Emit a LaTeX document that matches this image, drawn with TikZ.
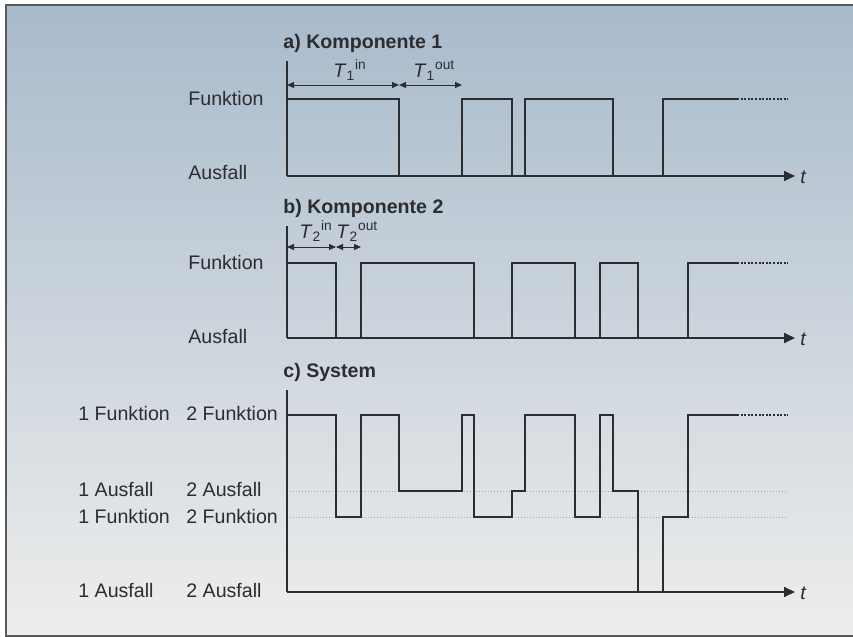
\documentclass[tikz,border=0pt]{standalone}
\usepackage{fontspec}
\setmainfont{Liberation Sans}
\usetikzlibrary{arrows.meta}
\definecolor{bgtop}{RGB}{168,186,203}
\definecolor{bgmid}{RGB}{206,213,220}
\definecolor{bgbot}{RGB}{238,238,237}
\definecolor{ink}{RGB}{45,45,48}
\newcommand{\Tlab}[2]{\textit{T}\textsubscript{#1}\textsuperscript{#2}}
\begin{document}
\begin{tikzpicture}[x=0.5pt, y=-0.5pt,
    lbl/.style={anchor=west, inner sep=0pt, text=ink, font=\fontsize{9.8}{11}\selectfont},
    title/.style={lbl, font=\fontsize{9.8}{11}\selectfont\bfseries},
    sig/.style={draw=ink, line width=1pt, line join=miter},
    tail/.style={draw=ink, line width=0.9pt, dash pattern=on 1pt off 0.8pt},
    axis/.style={draw=ink, line width=1pt, -{Triangle[length=5.5pt, width=5pt]}},
    dim/.style={draw=ink, line width=0.5pt, {Triangle[length=3.5pt, width=3pt]}-{Triangle[length=3.5pt, width=3pt]}},
    ref/.style={draw=black!35, line width=0.4pt, dash pattern=on 0.5pt off 1pt}
  ]
    \useasboundingbox (0,0) rectangle (853,637);
    % --- background panel ---
    \fill[white] (0,0) rectangle (853,637);
    \shade[top color=bgtop, middle color=bgmid, bottom color=bgbot] (6,5) rectangle (853,636);
    \draw[black!65, line width=0.6pt] (853,5) -- (6,5) -- (6,636) -- (853,636);

    % --- a) Komponente 1 ---
    \node[title] (ta) at (283,43) {a) Komponente 1};
    \node[lbl] (fa) at (188,98) {Funktion};
    \node[lbl] (aa) at (188,172) {Ausfall};
    \draw[ink, line width=1pt] (287,61) -- (287,176);
    \draw[axis] (287,176) -- (795,176);
    \node[lbl, font=\fontsize{9.8}{11}\selectfont\itshape] (tta) at (800,177) {t};
    \draw[sig] (287,99) -- (399,99) -- (399,176) -- (462,176) -- (462,99) -- (512,99) -- (512,176)
      -- (525,176) -- (525,99) -- (613,99) -- (613,176) -- (663,176) -- (663,99) -- (737,99);
    \draw[tail] (737,99) -- (788,99);
    % durations
    \coordinate (a0) at (287,85);
    \coordinate (a1) at (399,85);
    \coordinate (a2) at (462,85);
    \draw[dim] (a0) -- (a1);
    \draw[dim] (a1) -- (a2);
    \node[lbl, anchor=base west] (t1in) at (333,77) {\Tlab{1}{in}};
    \node[lbl, anchor=base west] (t1out) at (413,77) {\Tlab{1}{out}};

    % --- b) Komponente 2 ---
    \node[title] (tb) at (283,208) {b) Komponente 2};
    \node[lbl] (fb) at (188,262) {Funktion};
    \node[lbl] (ab) at (188,336) {Ausfall};
    \draw[ink, line width=1pt] (287,226) -- (287,338);
    \draw[axis] (287,338) -- (795,338);
    \node[lbl, font=\fontsize{9.8}{11}\selectfont\itshape] (ttb) at (800,339) {t};
    \draw[sig] (287,263) -- (336,263) -- (336,338) -- (361,338) -- (361,263) -- (474,263) -- (474,338)
      -- (512,338) -- (512,263) -- (575,263) -- (575,338) -- (600,338) -- (600,263) -- (638,263)
      -- (638,338) -- (688,338) -- (688,263) -- (737,263);
    \draw[tail] (737,263) -- (788,263);
    % durations
    \coordinate (b0) at (287,247);
    \coordinate (b1) at (336,247);
    \coordinate (b2) at (361,247);
    \draw[dim] (b0) -- (b1);
    \draw[dim] (b1) -- (b2);
    \node[lbl, anchor=base west] (t2in) at (299,238) {\Tlab{2}{in}};
    \node[lbl, anchor=base west] (t2out) at (336,238) {\Tlab{2}{out}};

    % --- c) System ---
    \node[title] (tc) at (283,372) {c) System};
    \node[lbl] (c1a) at (78,413) {1 Funktion};
    \node[lbl] (c2a) at (186,413) {2 Funktion};
    \node[lbl] (c1b) at (78,489) {1 Ausfall};
    \node[lbl] (c2b) at (186,489) {2 Ausfall};
    \node[lbl] (c1c) at (78,516) {1 Funktion};
    \node[lbl] (c2c) at (186,516) {2 Funktion};
    \node[lbl] (c1d) at (78,590) {1 Ausfall};
    \node[lbl] (c2d) at (186,590) {2 Ausfall};
    \draw[ref] (287,491) -- (788,491);
    \draw[ref] (287,517) -- (788,517);
    \draw[ink, line width=1pt] (287,390) -- (287,592);
    \draw[axis] (287,592) -- (795,592);
    \node[lbl, font=\fontsize{9.8}{11}\selectfont\itshape] (ttc) at (800,593) {t};
    \draw[sig] (287,415) -- (336,415) -- (336,517) -- (361,517) -- (361,415) -- (399,415) -- (399,491)
      -- (462,491) -- (462,415) -- (474,415) -- (474,517) -- (512,517) -- (512,491) -- (525,491)
      -- (525,415) -- (575,415) -- (575,517) -- (600,517) -- (600,415) -- (613,415) -- (613,491)
      -- (638,491) -- (638,592) -- (663,592) -- (663,517) -- (688,517) -- (688,415) -- (737,415);
    \draw[tail] (737,415) -- (788,415);
  \end{tikzpicture}
\end{document}
